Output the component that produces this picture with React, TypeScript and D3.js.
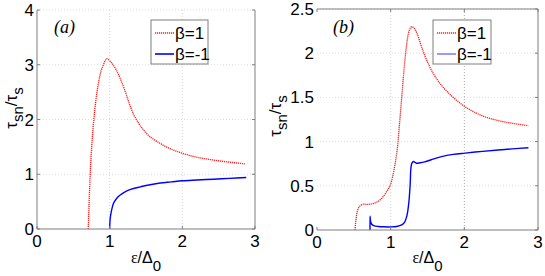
import * as d3 from "d3";

// panel (a)
const aRedX = [0.705, 0.715, 0.733, 0.755, 0.778, 0.81, 0.846, 0.88, 0.915, 0.94, 0.962, 1.03, 1.1, 1.19, 1.26, 1.33, 1.4, 1.465, 1.55, 1.65, 1.78, 1.92, 2.08, 2.24, 2.4, 2.56, 2.72, 2.86];
const aRedY = [0, 0.4, 1.03, 1.55, 1.94, 2.35, 2.67, 2.88, 3.0, 3.08, 3.11, 3.03, 2.88, 2.6, 2.33, 2.09, 1.93, 1.81, 1.69, 1.6, 1.5, 1.42, 1.35, 1.3, 1.265, 1.235, 1.21, 1.19];
const aBlueX = [1.0, 1.003, 1.01, 1.02, 1.035, 1.053, 1.08, 1.11, 1.145, 1.2, 1.26, 1.328, 1.42, 1.52, 1.695, 1.85, 1.996, 2.2, 2.43, 2.65, 2.88];
const aBlueY = [0, 0.12, 0.22, 0.3, 0.39, 0.47, 0.53, 0.58, 0.62, 0.67, 0.71, 0.74, 0.77, 0.8, 0.84, 0.86, 0.88, 0.895, 0.91, 0.925, 0.94];

// panel (b)
const bRedX = [0.516, 0.53, 0.55, 0.58, 0.62, 0.7, 0.8, 0.88, 0.95, 1.0, 1.05, 1.09, 1.12, 1.15, 1.18, 1.21, 1.24, 1.27, 1.29, 1.32, 1.36, 1.42, 1.5, 1.6, 1.75, 2.0, 2.25, 2.5, 2.87];
const bRedY = [0, 0.12, 0.22, 0.27, 0.29, 0.29, 0.31, 0.36, 0.44, 0.52, 0.7, 0.92, 1.2, 1.5, 1.8, 2.05, 2.22, 2.29, 2.3, 2.28, 2.22, 2.07, 1.9, 1.74, 1.58, 1.4, 1.29, 1.23, 1.18];
const bBlueX = [0.72, 0.72, 0.725, 0.74, 0.77, 0.833, 0.9, 1.0, 1.08, 1.15, 1.19, 1.217, 1.235, 1.25, 1.265, 1.276, 1.29, 1.31, 1.35, 1.4, 1.46, 1.55, 1.69, 1.85, 2.01, 2.25, 2.46, 2.65, 2.87];
const bBlueY = [0, 0.155, 0.11, 0.068, 0.05, 0.04, 0.036, 0.035, 0.04, 0.057, 0.09, 0.15, 0.23, 0.34, 0.52, 0.71, 0.76, 0.775, 0.755, 0.76, 0.77, 0.795, 0.83, 0.855, 0.87, 0.89, 0.905, 0.918, 0.93];

const xTicks = [0, 1, 2, 3];
const aYTicks = [0, 1, 2, 3, 4];
const bYTicks = [0, 0.5, 1, 1.5, 2, 2.5];
const legendLabels = ["β=1", "β=-1"];

const zip = (xs: number[], ys: number[]) => xs.map((x, i) => [x, ys[i]] as [number, number]);

const Panel = ({ box, yMax, yTicks, red, blue, tag, border, legend, labelY }: any) => {
  const x = d3.scaleLinear().domain([0, 3]).range([box.l, box.r]);
  const y = d3.scaleLinear().domain([0, yMax]).range([box.b, box.t]);
  const line = d3
    .line<[number, number]>()
    .x((d) => x(d[0]))
    .y((d) => y(d[1]))
    .curve(d3.curveCatmullRom.alpha(0.5));
  const axisColor = "#7f7f7f";
  const cx = (box.l + box.r) / 2;
  return (
    <g>
      {/* grid */}
      {xTicks.slice(1, -1).map((t) => (
        <line key={"gx" + t} x1={x(t)} x2={x(t)} y1={box.t} y2={box.b} stroke={t === 2 && tag === "b" ? "#a8a8a8" : "#d6d6d6"} strokeDasharray="1,2" />
      ))}
      {yTicks.slice(1).map((t: number) => (
        <line key={"gy" + t} x1={box.l} x2={box.r} y1={y(t)} y2={y(t)} stroke="#dcdcdc" strokeDasharray="1,2" />
      ))}
      {/* curves */}
      <path d={line(zip(red[0], red[1])) || ""} fill="none" stroke="#ff1a1a" strokeWidth={1.3} strokeDasharray="1.2,0.8" />
      <path d={line(zip(blue[0], blue[1])) || ""} fill="none" stroke="#0000ff" strokeWidth={1.4} />
      {/* frame */}
      {border.left && <line x1={box.l} x2={box.l} y1={box.t} y2={box.b} stroke={axisColor} />}
      {border.top && <line x1={box.l} x2={box.r} y1={box.t} y2={box.t} stroke={axisColor} />}
      <line x1={box.r} x2={box.r} y1={box.t} y2={box.b} stroke={axisColor} />
      <line x1={box.l} x2={box.r} y1={box.b} y2={box.b} stroke={axisColor} />
      {yTicks.map((t: number) => (
        <g key={"ty" + t}>
          <line x1={box.r - 3} x2={box.r} y1={y(t)} y2={y(t)} stroke={axisColor} />
          {border.left && <line x1={box.l} x2={box.l + 3} y1={y(t)} y2={y(t)} stroke={axisColor} />}
          <text x={box.l - 3} y={y(t) + 6} textAnchor="end" fontSize={17}>
            {String(t)}
          </text>
        </g>
      ))}
      {xTicks.map((t) => (
        <g key={"tx" + t}>
          <line x1={x(t)} x2={x(t)} y1={box.b - 3} y2={box.b} stroke={axisColor} />
          {border.top && <line x1={x(t)} x2={x(t)} y1={box.t} y2={box.t + 3} stroke={axisColor} />}
          <text x={x(t)} y={box.b + 18} textAnchor="middle" fontSize={17}>
            {String(t)}
          </text>
        </g>
      ))}
      {/* x label */}
      <text x={cx} y={263} textAnchor="middle" fontSize={16}>
        <tspan fontFamily="'Liberation Serif'">ε</tspan>
        <tspan>/Δ</tspan>
        <tspan dy={8} fontSize={15}>0</tspan>
      </text>
      {/* y label */}
      <text transform={`translate(${labelY.x},${labelY.y}) rotate(-90)`} textAnchor="middle" fontSize={17}>
        <tspan>τ</tspan>
        <tspan dy={6} fontSize={15}>sn</tspan>
        <tspan dy={-6}>/τ</tspan>
        <tspan dy={6} fontSize={15}>s</tspan>
      </text>
      {/* panel tag */}
      <text x={tag === "a" ? box.l + 17 : box.l + 16} y={33} fontFamily="'Liberation Serif'" fontStyle="italic" fontSize={18}>
        ({tag})
      </text>
      {/* legend */}
      <rect x={legend.x} y={legend.y} width={legend.w} height={44} fill="#fff" stroke={axisColor} />
      {legendLabels.map((lab, i) => (
        <g key={lab}>
          <line
            x1={legend.x + 4}
            x2={legend.x + 23}
            y1={legend.y + 13 + i * 21}
            y2={legend.y + 13 + i * 21}
            stroke={i === 0 ? "#ff1a1a" : tag === "b" ? "#7f7fff" : "#0000ff"}
            strokeWidth={i === 0 ? 1.3 : 1.6}
            strokeDasharray={i === 0 ? "1.2,0.8" : undefined}
          />
          <text x={legend.x + 24} y={legend.y + 19 + i * 21} fontSize={17}>
            {lab}
          </text>
        </g>
      ))}
    </g>
  );
};

export default function App() {
  return (
    <svg
      width={545}
      height={276}
      style={{ position: "absolute", left: 0, top: 0, fontFamily: "'Liberation Sans', Arial, sans-serif" }}
    >
      <rect width={545} height={276} fill="#fff" />
      <Panel
        box={{ l: 37, r: 255, t: 10, b: 229 }}
        yMax={4}
        yTicks={aYTicks}
        red={[aRedX, aRedY]}
        blue={[aBlueX, aBlueY]}
        tag="a"
        border={{ left: true, top: false }}
        legend={{ x: 151, y: 20, w: 57 }}
        labelY={{ x: 17, y: 108 }}
      />
      <Panel
        box={{ l: 317, r: 538, t: 9, b: 230 }}
        yMax={2.5}
        yTicks={bYTicks}
        red={[bRedX, bRedY]}
        blue={[bBlueX, bBlueY]}
        tag="b"
        border={{ left: false, top: true }}
        legend={{ x: 433, y: 20, w: 58 }}
        labelY={{ x: 281, y: 116 }}
      />
    </svg>
  );
}
